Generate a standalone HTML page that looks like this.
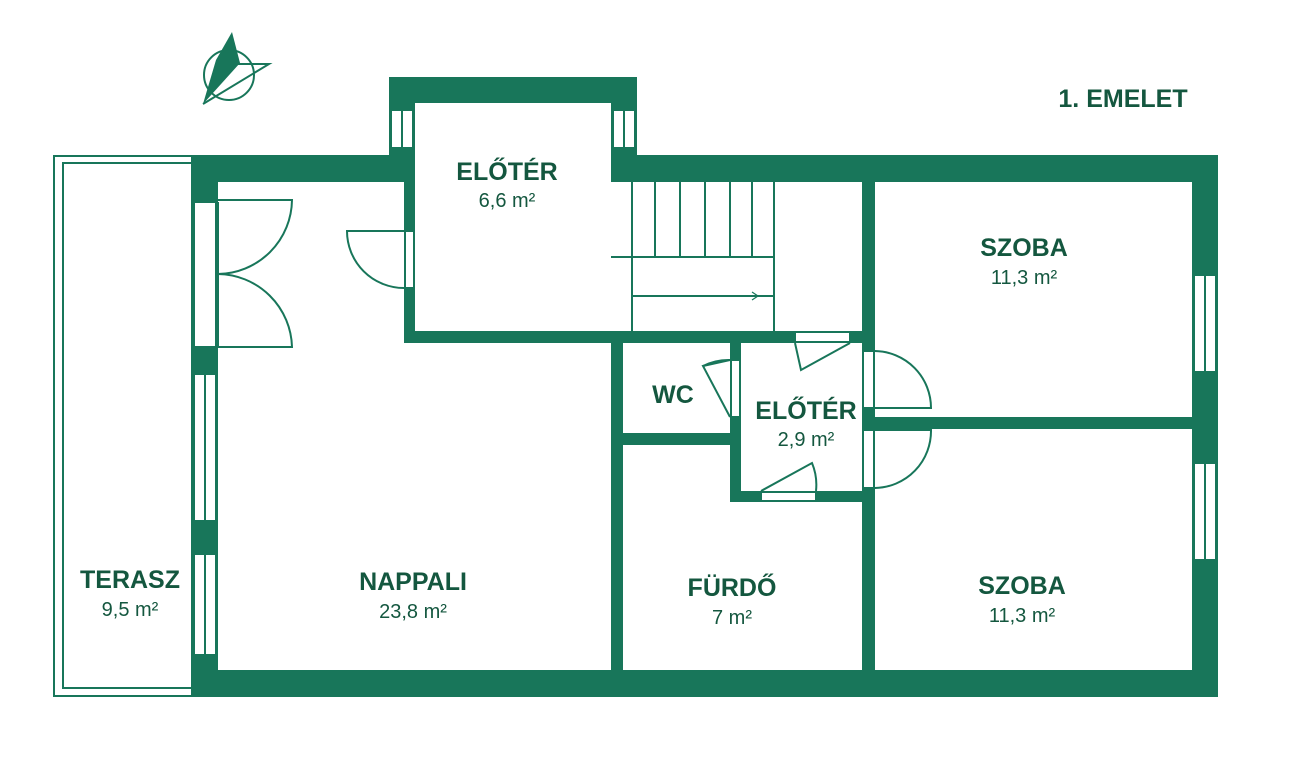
<!DOCTYPE html>
<html><head><meta charset="utf-8"><style>
html,body{margin:0;padding:0;background:#fff;}
svg{display:block}
text{font-family:"Liberation Sans",sans-serif;fill:#14573f}
.b{font-weight:bold;font-size:25px}
.n{font-size:20px}
</style></head><body>
<svg width="1300" height="760" viewBox="0 0 1300 760">
<g fill="#18765a" stroke="none">
<rect x="192" y="155" width="223" height="27"/>
<rect x="611" y="155" width="607" height="27"/>
<rect x="389" y="77" width="248" height="26"/>
<rect x="389" y="77" width="26" height="105"/>
<rect x="611" y="77" width="26" height="105"/>
<rect x="192" y="155" width="26" height="542"/>
<rect x="192" y="670" width="1026" height="27"/>
<rect x="1192" y="155" width="26" height="542"/>
<rect x="404" y="182" width="11" height="161"/>
<rect x="404" y="331" width="471" height="12"/>
<rect x="862" y="182" width="13" height="488"/>
<rect x="611" y="343" width="12" height="327"/>
<rect x="623" y="433" width="107" height="12"/>
<rect x="730" y="343" width="11" height="159"/>
<rect x="730" y="491" width="135" height="11"/>
<rect x="875" y="417" width="318" height="12"/>
</g>
<g fill="#fff" stroke="#18765a" stroke-width="2">
<rect x="391" y="110" width="22" height="38"/><line x1="402" y1="110" x2="402" y2="148"/>
<rect x="613" y="110" width="22" height="38"/><line x1="624" y1="110" x2="624" y2="148"/>
<rect x="194" y="202" width="22" height="145"/><line x1="218" y1="202" x2="218" y2="347"/>
<rect x="194" y="374" width="22" height="147"/><line x1="205" y1="374" x2="205" y2="521"/>
<rect x="194" y="554" width="22" height="101"/><line x1="205" y1="554" x2="205" y2="655"/>
<rect x="1194" y="275" width="22" height="97"/><line x1="1205" y1="275" x2="1205" y2="372"/>
<rect x="1194" y="463" width="22" height="97"/><line x1="1205" y1="463" x2="1205" y2="560"/>
<rect x="405" y="231" width="9" height="57"/>
<rect x="731" y="360" width="9" height="57"/>
<rect x="795" y="332" width="55" height="10"/>
<rect x="761" y="492" width="55" height="9"/>
<rect x="863" y="351" width="11" height="57"/>
<rect x="863" y="430" width="11" height="58"/>
</g>
<g fill="none" stroke="#18765a" stroke-width="2">
<rect x="54" y="156" width="138" height="540"/>
<rect x="63" y="163" width="129" height="525"/>
<path d="M218 200 H292 A75 75 0 0 1 218 274"/>
<path d="M218 347 H292 A75 75 0 0 0 218 274"/>
<path d="M404 231 H347 A57 57 0 0 0 404 288"/>
<line x1="632" y1="182" x2="632" y2="331"/>
<line x1="774" y1="182" x2="774" y2="331"/>
<line x1="611" y1="257" x2="774" y2="257"/>
<line x1="632" y1="296" x2="774" y2="296"/>
<line x1="655" y1="182" x2="655" y2="257"/><line x1="680" y1="182" x2="680" y2="257"/>
<line x1="705" y1="182" x2="705" y2="257"/><line x1="730" y1="182" x2="730" y2="257"/>
<line x1="752" y1="182" x2="752" y2="257"/>
<path d="M740 296 H758 M752 292 L758 296 L752 300" stroke-width="1.2"/>
<path d="M730 360 L703 366 L730 417"/>
<path d="M730 360 A57 57 0 0 0 703 366"/>
<path d="M850 343 L801 370 L795 343"/>
<path d="M761 491 L812 463 A57 57 0 0 1 816 491"/>
<path d="M875 351 A57 57 0 0 1 931 408 H875"/>
<path d="M875 430 H931 A57 57 0 0 1 875 488"/>
<circle cx="229" cy="75" r="25"/>
<path d="M203 104 L269 64 L238 64"/>
</g>
<path d="M232 32 L240 63 L203 104 L216 60 Z" fill="#18765a"/>
<text class="b" x="1123" y="107" text-anchor="middle">1. EMELET</text>
<text class="b" x="507" y="180" text-anchor="middle">ELŐTÉR</text>
<text class="n" x="507" y="207" text-anchor="middle">6,6 m²</text>
<text class="b" x="1024" y="256" text-anchor="middle">SZOBA</text>
<text class="n" x="1024" y="284" text-anchor="middle">11,3 m²</text>
<text class="b" x="673" y="403" text-anchor="middle">WC</text>
<text class="b" x="806" y="419" text-anchor="middle">ELŐTÉR</text>
<text class="n" x="806" y="446" text-anchor="middle">2,9 m²</text>
<text class="b" x="130" y="588" text-anchor="middle">TERASZ</text>
<text class="n" x="130" y="616" text-anchor="middle">9,5 m²</text>
<text class="b" x="413" y="590" text-anchor="middle">NAPPALI</text>
<text class="n" x="413" y="618" text-anchor="middle">23,8 m²</text>
<text class="b" x="732" y="596" text-anchor="middle">FÜRDŐ</text>
<text class="n" x="732" y="624" text-anchor="middle">7 m²</text>
<text class="b" x="1022" y="594" text-anchor="middle">SZOBA</text>
<text class="n" x="1022" y="622" text-anchor="middle">11,3 m²</text>
</svg>
</body></html>
